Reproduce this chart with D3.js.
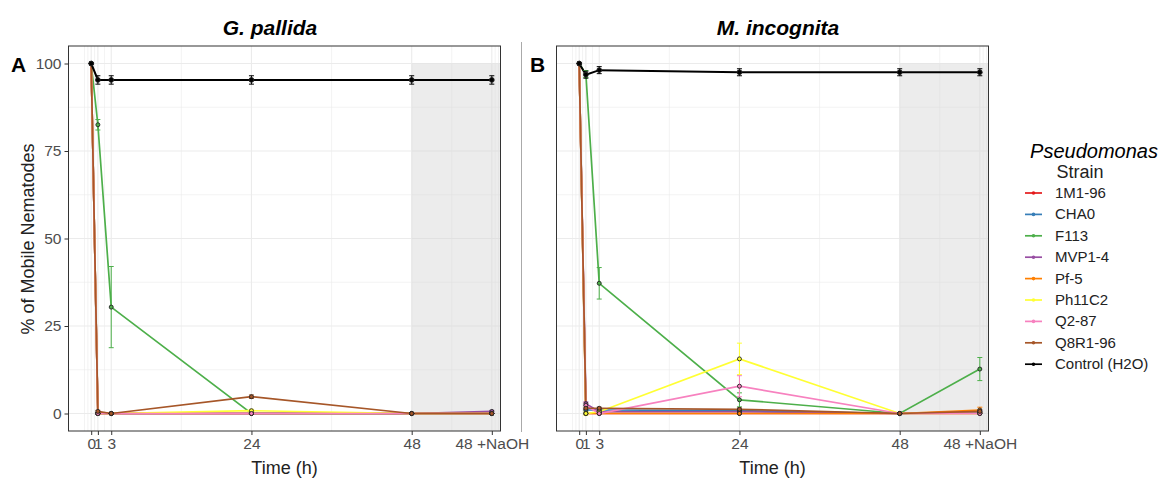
<!DOCTYPE html>
<html>
<head>
<meta charset="utf-8">
<script src="https://cdn.jsdelivr.net/npm/d3@7"></script>
<style>
  body { margin: 0; background: #fff; }
  text { font-family: "Liberation Sans", Arial, sans-serif; }
</style>
</head>
<body>
<div id="chart"></div>
<script>
var width = 1165, height = 481;

// time points (48 +NaOH plotted at 60)
var times = [0, 1, 3, 24, 48, 60];
var timeLabels = ["0", "1", "3", "24", "48", "48 +NaOH"];
var minorX = [-1, -0.5, 0.5, 2, 13.5, 36, 54, 60.5, 61];
var yTicks = [0, 25, 50, 75, 100];
var minorY = [12.5, 37.5, 62.5, 87.5];

var strains = ["1M1-96", "CHA0", "F113", "MVP1-4", "Pf-5", "Ph11C2", "Q2-87", "Q8R1-96", "Control (H2O)"];
var colors = ["#E41A1C", "#377EB8", "#4DAF4A", "#984EA3", "#FF7F00", "#FFFF33", "#F781BF", "#A65628", "#000000"];

// G. pallida means (rows follow strains order)
var gpMeans = [
  [100, 0, 0, 0, 0, 0],
  [100, 0, 0, 0, 0, 0],
  [100, 82.5, 30.4, 0, 0, 0],
  [100, 0, 0, 0, 0, 0.6],
  [100, 0, 0, 0, 0, 0],
  [100, 0, 0, 0.8, 0, 0],
  [100, 0, 0, 0, 0, 0],
  [100, 0.6, 0, 4.8, 0, 0],
  [100, 95.3, 95.3, 95.3, 95.3, 95.3]
];
var gpErr = [
  [0, 0, 0, 0, 0, 0],
  [0, 0, 0, 0, 0, 0],
  [0, 1.5, 11.6, 0, 0, 0],
  [0, 0, 0, 0, 0, 0.3],
  [0, 0, 0, 0, 0, 0],
  [0, 0, 0, 0.4, 0, 0],
  [0, 0, 0, 0, 0, 0],
  [0, 0.3, 0, 0.5, 0, 0],
  [0, 1.2, 1.2, 1.2, 1.2, 1.2]
];

// M. incognita means
var miMeans = [
  [100, 0, 0, 0, 0, 0],
  [100, 1.0, 1.0, 0.8, 0, 0.3],
  [100, 97, 37.2, 3.9, 0, 12.7],
  [100, 2.8, 0.5, 0.5, 0, 0.5],
  [100, 0, 0, 0, 0, 1.0],
  [100, 0, 0.5, 15.6, 0, 0],
  [100, 2.3, 0, 7.8, 0, 0],
  [100, 1.5, 1.5, 1.2, 0, 0.6],
  [100, 96.8, 98.1, 97.5, 97.5, 97.5]
];
var miErr = [
  [0, 0, 0, 0, 0, 0],
  [0, 0.3, 0.3, 0.3, 0, 0.2],
  [0, 1.0, 4.5, 2.0, 0, 3.3],
  [0, 0.5, 0.3, 0.3, 0, 0.3],
  [0, 0, 0, 0, 0, 0.8],
  [0, 0.5, 0.5, 4.5, 0, 0],
  [0, 0.8, 0, 3.0, 0, 0],
  [0, 0.3, 0.3, 0.4, 0, 0.4],
  [0, 1.0, 1.0, 1.0, 1.0, 1.0]
];

var svg = d3.select("#chart").append("svg")
    .attr("width", width)
    .attr("height", height);

var panels = [
  {left: 68.5, title: "G. pallida", titleX: 270, tag: "A", tagX: 11, means: gpMeans, err: gpErr, yLabels: true},
  {left: 556.5, title: "M. incognita", titleX: 778, tag: "B", tagX: 530, means: miMeans, err: miErr, yLabels: false}
];
var pw = 432, plotTop = 46, plotBottom = 431;

// faint border between the two pasted panels
svg.append("line").attr("x1", 521.5).attr("x2", 521.5).attr("y1", 42).attr("y2", 432)
  .attr("stroke", "#aaa").attr("stroke-width", 1);

panels.forEach(function(p) {
  var x = d3.scaleLinear().domain([-3.4, 61.3]).range([p.left, p.left + pw]);
  var y = d3.scaleLinear().domain([-5, 105]).range([plotBottom, plotTop]);
  var g = svg.append("g");

  // grid
  g.selectAll(".minx").data(minorX).enter().append("line")
    .attr("x1", function(d) { return x(d); }).attr("x2", function(d) { return x(d); })
    .attr("y1", plotTop).attr("y2", plotBottom)
    .attr("stroke", "#ebebeb").attr("stroke-width", 0.6);
  g.selectAll(".miny").data(minorY).enter().append("line")
    .attr("y1", function(d) { return y(d); }).attr("y2", function(d) { return y(d); })
    .attr("x1", p.left).attr("x2", p.left + pw)
    .attr("stroke", "#ebebeb").attr("stroke-width", 0.6);
  g.selectAll(".majx").data(times).enter().append("line")
    .attr("x1", function(d) { return x(d); }).attr("x2", function(d) { return x(d); })
    .attr("y1", plotTop).attr("y2", plotBottom)
    .attr("stroke", "#ebebeb").attr("stroke-width", 1.1);
  g.selectAll(".majy").data(yTicks).enter().append("line")
    .attr("y1", function(d) { return y(d); }).attr("y2", function(d) { return y(d); })
    .attr("x1", p.left).attr("x2", p.left + pw)
    .attr("stroke", "#ebebeb").attr("stroke-width", 1.1);

  // shaded NaOH region
  g.append("rect")
    .attr("x", x(48)).attr("y", y(100))
    .attr("width", p.left + pw - x(48)).attr("height", plotBottom - y(100))
    .attr("fill", "#d4d4d4").attr("opacity", 0.45);

  var line = d3.line()
    .x(function(d, i) { return x(times[i]); })
    .y(function(d) { return y(d); });

  // lines
  p.means.forEach(function(row, s) {
    g.append("path").datum(row)
      .attr("d", line)
      .attr("fill", "none")
      .attr("stroke", colors[s])
      .attr("stroke-width", s == 8 ? 2 : 1.7);
  });

  // error bars
  p.means.forEach(function(row, s) {
    row.forEach(function(m, i) {
      var e = p.err[s][i];
      if (e <= 0) return;
      var eg = g.append("g").attr("stroke", colors[s]).attr("stroke-width", 1);
      eg.append("line").attr("x1", x(times[i])).attr("x2", x(times[i]))
        .attr("y1", y(m - e)).attr("y2", y(m + e));
      [m - e, m + e].forEach(function(v) {
        eg.append("line").attr("x1", x(times[i]) - 2.5).attr("x2", x(times[i]) + 2.5)
          .attr("y1", y(v)).attr("y2", y(v));
      });
    });
  });

  // points
  p.means.forEach(function(row, s) {
    g.selectAll(".pt" + s).data(row).enter().append("circle")
      .attr("cx", function(d, i) { return x(times[i]); })
      .attr("cy", function(d) { return y(d); })
      .attr("r", s == 8 ? 2.4 : 2)
      .attr("fill", colors[s])
      .attr("stroke", "#222")
      .attr("stroke-width", 0.9);
  });

  // panel border
  g.append("rect")
    .attr("x", p.left).attr("y", plotTop).attr("width", pw).attr("height", plotBottom - plotTop)
    .attr("fill", "none").attr("stroke", "#333").attr("stroke-width", 1);

  // x axis
  var xAxis = d3.axisBottom(x).tickValues(times)
    .tickFormat(function(d, i) { return timeLabels[i]; })
    .tickSize(4).tickPadding(3);
  var xa = g.append("g").attr("transform", "translate(0," + plotBottom + ")").call(xAxis);
  xa.select(".domain").remove();
  xa.selectAll("line").attr("stroke", "#333");
  xa.selectAll("text").attr("fill", "#4d4d4d").style("font-size", "15.5px")
    .style("font-family", "'Liberation Sans', Arial, sans-serif");

  // y axis (only the left panel carries it)
  if (p.yLabels) {
    var yAxis = d3.axisLeft(y).tickValues(yTicks).tickSize(4).tickPadding(3)
      .tickFormat(d3.format("d"));
    var ya = g.append("g").attr("transform", "translate(" + p.left + ",0)").call(yAxis);
    ya.select(".domain").remove();
    ya.selectAll("line").attr("stroke", "#333");
    ya.selectAll("text").attr("fill", "#4d4d4d").style("font-size", "15.5px")
      .style("font-family", "'Liberation Sans', Arial, sans-serif");
  }

  // titles
  svg.append("text").attr("x", p.titleX).attr("y", 35)
    .attr("text-anchor", "middle").style("font-size", "21px")
    .style("font-weight", "bold").style("font-style", "italic")
    .text(p.title);
  svg.append("text").attr("x", p.tagX).attr("y", 72)
    .style("font-size", "21px").style("font-weight", "bold")
    .text(p.tag);
  svg.append("text").attr("x", p.left + pw / 2).attr("y", 474)
    .attr("text-anchor", "middle").style("font-size", "18px").attr("fill", "#222")
    .text("Time (h)");
});

svg.append("text")
  .attr("transform", "translate(34,239) rotate(-90)")
  .attr("text-anchor", "middle").style("font-size", "18px").attr("fill", "#222")
  .text("% of Mobile Nematodes");

// legend
var leg = svg.append("g");
leg.append("text").attr("x", 1094).attr("y", 158).attr("text-anchor", "middle")
  .style("font-size", "20px").style("font-style", "italic").text("Pseudomonas");
leg.append("text").attr("x", 1080).attr("y", 178).attr("text-anchor", "middle")
  .style("font-size", "18px").attr("fill", "#222").text("Strain");
strains.forEach(function(s, i) {
  var yy = 193 + i * 21.4;
  leg.append("line").attr("x1", 1025).attr("x2", 1042).attr("y1", yy).attr("y2", yy)
    .attr("stroke", colors[i]).attr("stroke-width", 1.7);
  leg.append("circle").attr("cx", 1033.5).attr("cy", yy).attr("r", 1.8).attr("fill", colors[i]);
  leg.append("text").attr("x", 1055).attr("y", yy + 5)
    .style("font-size", "15px").attr("fill", "#222").text(s);
});
</script>
</body>
</html>
